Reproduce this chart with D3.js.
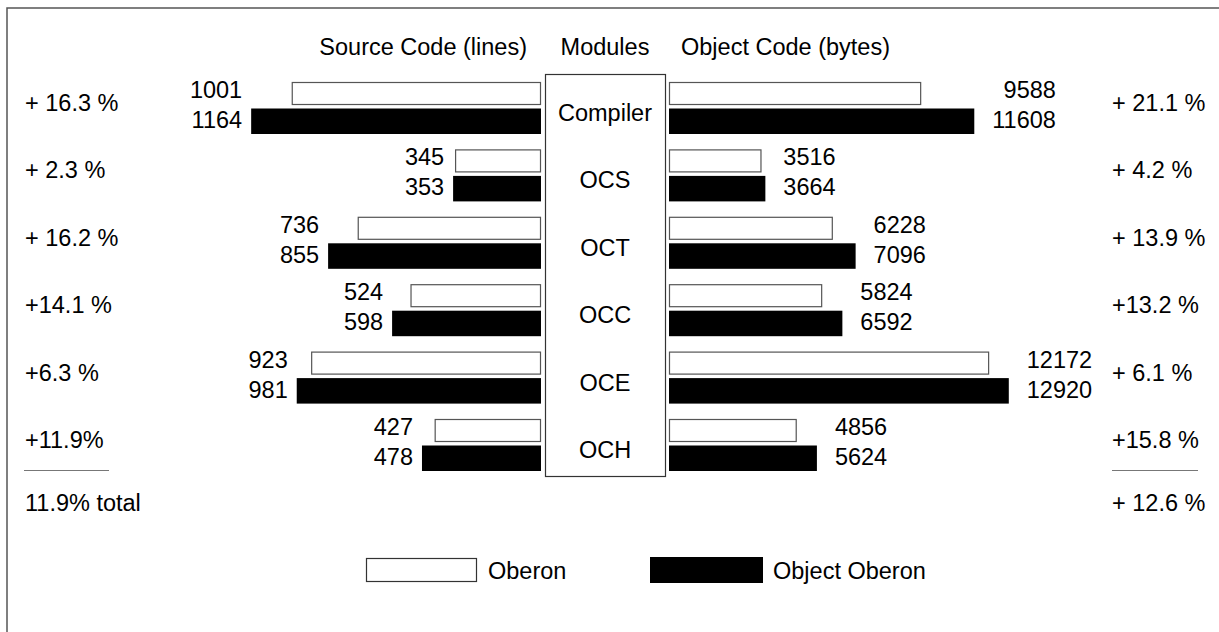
<!DOCTYPE html>
<html>
<head>
<meta charset="utf-8">
<script src="https://cdn.jsdelivr.net/npm/d3@7"></script>
<style>
  html, body { margin: 0; padding: 0; background: #fff; overflow: hidden; }
  text { font-family: "Liberation Sans", Arial, sans-serif; font-size: 23.5px; fill: #000; }
</style>
</head>
<body>
<div id="svg-container"></div>
<script>
// data
const modules = ["Compiler", "OCS", "OCT", "OCC", "OCE", "OCH"]
const srcOberon = [1001, 345, 736, 524, 923, 427]
const srcObject = [1164, 353, 855, 598, 981, 478]
const objOberon = [9588, 3516, 6228, 5824, 12172, 4856]
const objObject = [11608, 3664, 7096, 6592, 12920, 5624]
const srcGrowth = ["+ 16.3 %", "+ 2.3 %", "+ 16.2 %", "+14.1 %", "+6.3 %", "+11.9%"]
const objGrowth = ["+ 21.1 %", "+ 4.2 %", "+ 13.9 %", "+13.2 %", "+ 6.1 %", "+15.8 %"]
const srcTotal = "11.9% total"
const objTotal = "+ 12.6 %"
const legendLabels = ["Oberon", "Object Oberon"]

const width = 1219, height = 632
const svg = d3.select('#svg-container').append('svg')
    .attr('width', width).attr('height', height)

// frame (only left and top edge visible)
svg.append('rect')
    .attr('x', 7).attr('y', 8).attr('width', 1400).attr('height', 800)
    .attr('fill', 'none').attr('stroke', '#555').attr('stroke-width', 1.5)

const rows = modules.map((m, i) => ({
    name: m, srcA: srcOberon[i], srcB: srcObject[i],
    objA: objOberon[i], objB: objObject[i],
    gL: srcGrowth[i], gR: objGrowth[i]
}))

// scales
const y = d3.scaleBand().domain(modules).range([82, 82 + 67.4 * modules.length]).padding(0)
const xL = d3.scaleLinear().domain([0, 1200]).range([541, 541 - 1200 * 0.249])
const xR = d3.scaleLinear().domain([0, 13000]).range([669, 669 + 13000 * 0.0263])

const hA = 22, offB = 26.5, hB = 25.5

// headers
svg.append('text').attr('x', 527).attr('y', 55).attr('text-anchor', 'end').text('Source Code (lines)')
svg.append('text').attr('x', 605).attr('y', 55).attr('text-anchor', 'middle').text('Modules')
svg.append('text').attr('x', 681).attr('y', 55).attr('text-anchor', 'start').text('Object Code (bytes)')

// module box
svg.append('rect')
    .attr('x', 545.5).attr('y', 74.5).attr('width', 120).attr('height', 402)
    .attr('fill', '#fff').attr('stroke', '#333').attr('stroke-width', 1.2)

const g = svg.selectAll('g.row').data(rows).enter().append('g').attr('class', 'row')

// left bars
g.append('rect')
    .attr('x', d => xL(d.srcA) + 0.5).attr('y', d => y(d.name) + 0.5)
    .attr('width', d => xL(0) - xL(d.srcA) - 1).attr('height', hA)
    .attr('fill', '#fff').attr('stroke', '#555').attr('stroke-width', 1.2)
g.append('rect')
    .attr('x', d => xL(d.srcB)).attr('y', d => y(d.name) + offB)
    .attr('width', d => xL(0) - xL(d.srcB)).attr('height', hB)
    .attr('fill', '#000')

// right bars
g.append('rect')
    .attr('x', xR(0) + 0.5).attr('y', d => y(d.name) + 0.5)
    .attr('width', d => xR(d.objA) - xR(0) - 1).attr('height', hA)
    .attr('fill', '#fff').attr('stroke', '#555').attr('stroke-width', 1.2)
g.append('rect')
    .attr('x', xR(0)).attr('y', d => y(d.name) + offB)
    .attr('width', d => xR(d.objB) - xR(0)).attr('height', hB)
    .attr('fill', '#000')

// left value labels, right aligned before the longer bar
g.append('text').attr('text-anchor', 'end')
    .attr('x', d => xL(d.srcB) - 9).attr('y', d => y(d.name) + 16).text(d => d.srcA)
g.append('text').attr('text-anchor', 'end')
    .attr('x', d => xL(d.srcB) - 9).attr('y', d => y(d.name) + 46).text(d => d.srcB)

// right value labels, right aligned with each other
g.each(function (d) {
    const row = d3.select(this)
    const tb = row.append('text').attr('text-anchor', 'start')
        .attr('x', xR(d.objB) + 18).attr('y', y(d.name) + 46).text(d.objB)
    const right = xR(d.objB) + 18 + tb.node().getComputedTextLength()
    row.append('text').attr('text-anchor', 'end')
        .attr('x', right).attr('y', y(d.name) + 16).text(d.objA)
})

// module names
g.append('text').attr('text-anchor', 'middle')
    .attr('x', 605).attr('y', d => y(d.name) + 39).text(d => d.name)

// growth percentages
g.append('text').attr('x', 25).attr('y', d => y(d.name) + 29).text(d => d.gL)
g.append('text').attr('x', 1112).attr('y', d => y(d.name) + 29).text(d => d.gR)

// totals
svg.append('line').attr('x1', 24).attr('x2', 109).attr('y1', 470.5).attr('y2', 470.5)
    .attr('stroke', '#777').attr('stroke-width', 1.2)
svg.append('line').attr('x1', 1112).attr('x2', 1198).attr('y1', 470.5).attr('y2', 470.5)
    .attr('stroke', '#777').attr('stroke-width', 1.2)
svg.append('text').attr('x', 25).attr('y', 511).text(srcTotal)
svg.append('text').attr('x', 1112).attr('y', 511).text(objTotal)

// legend
svg.append('rect').attr('x', 366.5).attr('y', 558.5).attr('width', 110).attr('height', 23)
    .attr('fill', '#fff').attr('stroke', '#333').attr('stroke-width', 1.2)
svg.append('text').attr('x', 488).attr('y', 579).text(legendLabels[0])
svg.append('rect').attr('x', 650).attr('y', 557).attr('width', 113).attr('height', 26)
    .attr('fill', '#000')
svg.append('text').attr('x', 773).attr('y', 579).text(legendLabels[1])
</script>
</body>
</html>
